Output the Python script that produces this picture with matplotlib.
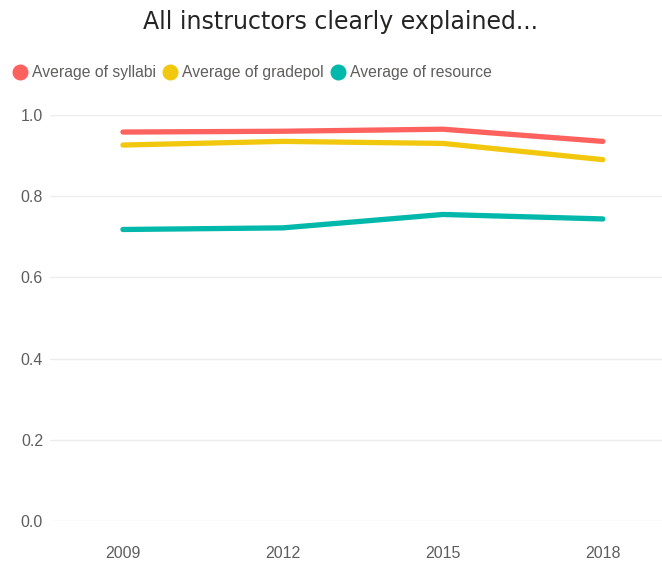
import matplotlib
matplotlib.use("Agg")
import matplotlib.pyplot as plt
from matplotlib.lines import Line2D

years = ["2009", "2012", "2015", "2018"]
syllabi = [0.958, 0.960, 0.965, 0.935]
gradepol = [0.926, 0.935, 0.930, 0.890]
resource = [0.718, 0.722, 0.755, 0.744]
series_names = ["Average of syllabi", "Average of gradepol", "Average of resource"]
colors = ["#FD625E", "#F2C80F", "#01B8AA"]
yticks = [0.0, 0.2, 0.4, 0.6, 0.8, 1.0]

W, H = 662, 567
fig = plt.figure(figsize=(W / 100, H / 100), dpi=100)
plt.rcParams['font.family'] = ['Liberation Sans', 'DejaVu Sans']

left, right, top, bottom = 50, 662, 115, 521
ax = fig.add_axes([left / W, 1 - bottom / H, (right - left) / W, (bottom - top) / H])

x = list(range(len(years)))
for vals, c in zip([syllabi, gradepol, resource], colors):
    ax.plot(x, vals, color=c, lw=3.8, solid_capstyle='round', solid_joinstyle='round', clip_on=False)

ax.set_ylim(0, 1.0)
ax.set_xlim(-0.456, 3.37)
ax.set_yticks(yticks)
ax.set_yticklabels([f"{v:.1f}" for v in yticks])
ax.set_xticks(x)
ax.set_xticklabels(years)
ax.grid(axis='y', color='#EDEDED', lw=1)
ax.set_axisbelow(True)
for s in ax.spines.values():
    s.set_visible(False)
ax.tick_params(length=0, colors='#605E5C', labelsize=11.5)
ax.tick_params(axis='y', pad=5)
ax.tick_params(axis='x', pad=18)

fig.text(340 / W, 1 - 22 / H, "All instructors clearly explained...", ha='center', va='center',
         fontsize=17, color='#252423', family=['DejaVu Sans'])

handles = [Line2D([], [], marker='o', ls='none', markersize=10.5, markerfacecolor=c, markeredgecolor=c)
           for c in colors]
fig.legend(handles, series_names, loc='center left', bbox_to_anchor=(11 / W, 1 - 73 / H), ncol=3,
           frameon=False, fontsize=11.3, labelcolor='#605E5C', handletextpad=0.15,
           columnspacing=0.3, handlelength=1.2, borderaxespad=0, borderpad=0)

fig.savefig("out.png", dpi=100)
